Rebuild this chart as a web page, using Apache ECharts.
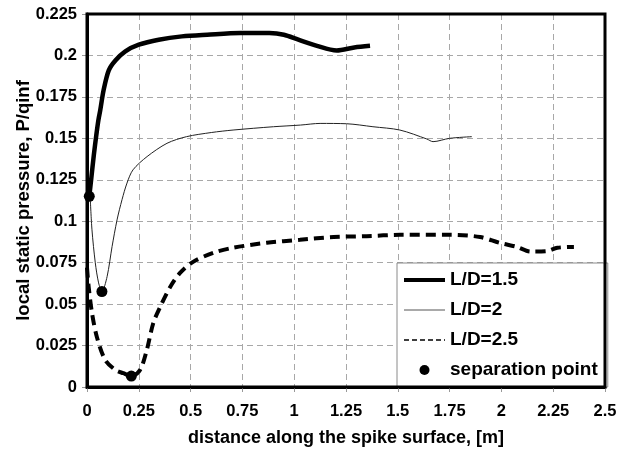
<!DOCTYPE html>
<html>
<head>
<meta charset="utf-8">
<script src="https://cdn.jsdelivr.net/npm/echarts@6/dist/echarts.min.js"></script>
<style>
html,body{margin:0;padding:0;background:#fff;}
#chart{width:617px;height:450px;}
</style>
</head>
<body>
<div id="chart"></div>
<script>
// ---- data ----
const seriesNames = ['L/D=1.5', 'L/D=2', 'L/D=2.5', 'separation point'];

const ld15X = [0.011, 0.02, 0.033, 0.045, 0.055, 0.064, 0.08, 0.105, 0.137, 0.185, 0.25, 0.346, 0.458, 0.58, 0.74, 0.88, 0.95, 1.02, 1.11, 1.205, 1.29, 1.366];
const ld15Y = [0.115, 0.125, 0.14, 0.152, 0.161, 0.167, 0.179, 0.191, 0.197, 0.2025, 0.2065, 0.2095, 0.2115, 0.2125, 0.2135, 0.2135, 0.2125, 0.2095, 0.2058, 0.203, 0.2048, 0.2058];

const ld2X = [0.016, 0.024, 0.04, 0.056, 0.072, 0.097, 0.121, 0.145, 0.169, 0.193, 0.222, 0.29, 0.386, 0.48, 0.6, 0.705, 0.9, 1.03, 1.125, 1.253, 1.38, 1.51, 1.64, 1.67, 1.75, 1.857];
const ld2Y = [0.113, 0.0948, 0.0749, 0.0628, 0.0576, 0.0666, 0.0847, 0.1008, 0.113, 0.123, 0.131, 0.139, 0.147, 0.151, 0.1535, 0.155, 0.157, 0.158, 0.159, 0.1588, 0.157, 0.155, 0.1496, 0.148, 0.15, 0.151];

const ld25X = [0.0, 0.008, 0.024, 0.048, 0.088, 0.137, 0.175, 0.214, 0.256, 0.288, 0.32, 0.352, 0.4, 0.449, 0.512, 0.61, 0.705, 0.868, 1.028, 1.19, 1.35, 1.51, 1.75, 1.897, 1.99, 2.075, 2.14, 2.22, 2.27, 2.35];
const ld25Y = [0.072, 0.0605, 0.0447, 0.03, 0.0163, 0.0103, 0.0083, 0.0066, 0.0103, 0.022, 0.0386, 0.048, 0.06, 0.0688, 0.0755, 0.081, 0.084, 0.087, 0.0888, 0.0905, 0.091, 0.0918, 0.0918, 0.0905, 0.087, 0.0845, 0.0817, 0.082, 0.084, 0.0845];

const sepX = [0.011, 0.072, 0.214];
const sepY = [0.115, 0.0576, 0.0066];

const xTicks = {min: 0, max: 2.5, interval: 0.25};
const yTicks = {min: 0, max: 0.225, interval: 0.025};

const xTitle = 'distance along the spike surface, [m]';
const yTitle = 'local static pressure, P/qinf';

// ---- build ----
function pairs(xs, ys) { return xs.map((x, i) => [x, ys[i]]); }

const FONT = 'Liberation Sans';
const chart = echarts.init(document.getElementById('chart'), null, {renderer: 'canvas'});

const splitStyle = {show: true, lineStyle: {color: '#a8a8a8', width: 1, type: [6, 4]}};
const tickStyle = {show: true, inside: false, length: 5, lineStyle: {color: '#999', width: 1}};
const labelStyle = {fontFamily: FONT, fontWeight: 'bold', fontSize: 16.5, color: '#000'};
const hideSymbol = {opacity: 0};

chart.setOption({
  animation: false,
  backgroundColor: '#fff',
  grid: {
    left: 87, right: 12, top: 14, bottom: 63,
    show: true, borderColor: '#000', borderWidth: 3,
    backgroundColor: 'transparent', z: 10,
    outerBoundsMode: 'none'
  },
  xAxis: {
    type: 'value',
    min: xTicks.min, max: xTicks.max, interval: xTicks.interval,
    name: xTitle, nameLocation: 'middle', nameGap: 42,
    nameTextStyle: {fontFamily: FONT, fontWeight: 'bold', fontSize: 18, color: '#000'},
    axisLine: {show: true, onZero: false, lineStyle: {color: '#000', width: 3}},
    axisTick: tickStyle,
    axisLabel: Object.assign({margin: 16, showMinLabel: true, showMaxLabel: true}, labelStyle),
    splitLine: splitStyle
  },
  yAxis: {
    type: 'value',
    min: yTicks.min, max: yTicks.max, interval: yTicks.interval,
    name: yTitle, nameLocation: 'middle', nameGap: 54, nameMoveOverlap: false,
    nameTextStyle: {fontFamily: FONT, fontWeight: 'bold', fontSize: 18.5, color: '#000'},
    axisLine: {show: true, onZero: false, lineStyle: {color: '#000', width: 3}},
    axisTick: tickStyle,
    axisLabel: Object.assign({margin: 10, showMinLabel: true, showMaxLabel: true}, labelStyle),
    splitLine: splitStyle
  },
  legend: {
    orient: 'vertical',
    left: 397, top: 263,
    padding: [7, 10, 7, 5],
    itemGap: 10,
    itemWidth: 41, itemHeight: 10,
    backgroundColor: '#fff',
    borderColor: '#8a8a8a', borderWidth: 1, borderRadius: 0,
    textStyle: {fontFamily: FONT, fontWeight: 'bold', fontSize: 19, color: '#000', lineHeight: 20},
    data: [
      {name: seriesNames[0], itemStyle: hideSymbol, lineStyle: {width: 4, color: '#000', type: 'solid'}},
      {name: seriesNames[1], itemStyle: hideSymbol, lineStyle: {width: 1, color: '#555', type: 'solid'}},
      {name: seriesNames[2], itemStyle: hideSymbol, lineStyle: {width: 1.5, color: '#000', type: [5, 3]}},
      {name: seriesNames[3], icon: 'circle', itemStyle: {color: '#000', opacity: 1}}
    ]
  },
  series: [
    {
      name: seriesNames[0], type: 'line', symbol: 'none', showSymbol: false,
      data: pairs(ld15X, ld15Y), smooth: 0.3,
      lineStyle: {color: '#000', width: 4.5}, itemStyle: {color: '#000'}, z: 3
    },
    {
      name: seriesNames[1], type: 'line', symbol: 'none', showSymbol: false,
      data: pairs(ld2X, ld2Y), smooth: 0.3,
      lineStyle: {color: '#222', width: 1}, itemStyle: {color: '#222'}, z: 3
    },
    {
      name: seriesNames[2], type: 'line', symbol: 'none', showSymbol: false,
      data: pairs(ld25X, ld25Y), smooth: 0.3,
      lineStyle: {color: '#000', width: 4, type: [10, 6]}, itemStyle: {color: '#000'}, z: 3
    },
    {
      name: seriesNames[3], type: 'scatter', symbol: 'circle', symbolSize: 11,
      data: pairs(sepX, sepY),
      itemStyle: {color: '#000', opacity: 1}, z: 5
    }
  ]
});
</script>
</body>
</html>
